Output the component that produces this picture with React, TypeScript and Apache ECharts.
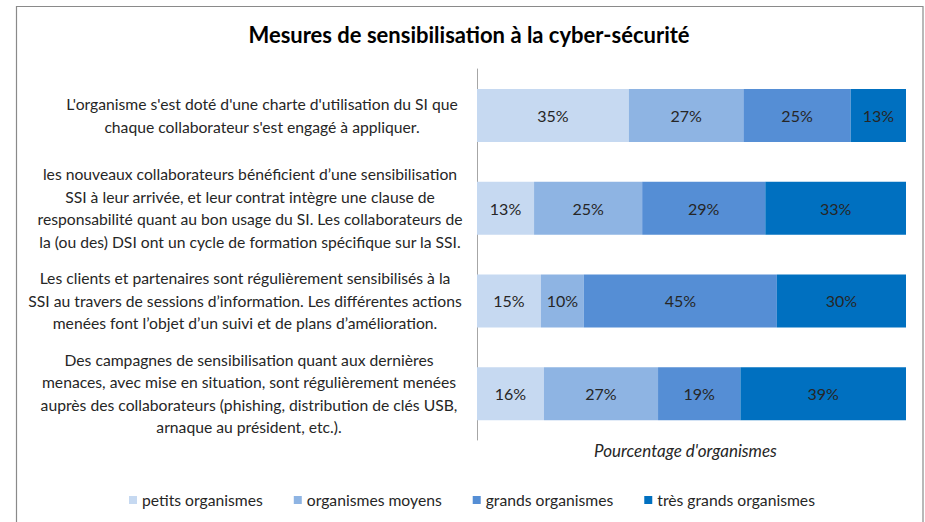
import React, { useEffect, useRef } from "react";
import * as echarts from "echarts";

const title = "Mesures de sensibilisation à la cyber-sécurité";
const axisName = "Pourcentage d'organismes";

const categories = [
  "L'organisme s'est doté d'une charte d'utilisation du SI que\nchaque collaborateur s'est engagé à appliquer.",
  "les nouveaux collaborateurs bénéficient d’une sensibilisation\nSSI à leur arrivée, et leur contrat intègre une clause de\nresponsabilité quant au bon usage du SI. Les collaborateurs de\nla (ou des) DSI ont un cycle de formation spécifique sur la SSI.",
  "Les clients et partenaires sont régulièrement sensibilisés à la\nSSI au travers de sessions d’information. Les différentes actions\nmenées font l’objet d’un suivi et de plans d’amélioration.",
  "Des campagnes de sensibilisation quant aux dernières\nmenaces, avec mise en situation, sont régulièrement menées\nauprès des collaborateurs (phishing, distribution de clés USB,\narnaque au président, etc.).",
];

const seriesNames = [
  "petits organismes",
  "organismes moyens",
  "grands organismes",
  "très grands organismes",
];

const petits = [35.4, 13.3, 14.9, 15.6];
const moyens = [26.7, 25.2, 10.0, 26.6];
const grands = [25.0, 28.7, 45.0, 19.2];
const tresGrands = [12.9, 32.8, 30.1, 38.6];

const colors = ["#C6D9F1", "#8EB4E3", "#558ED5", "#0070C0"];
const labelShift = [34, 10, 0, 8];

const FONT = "Lato, 'Noto Sans', sans-serif";

export default function App() {
  const ref = useRef<HTMLDivElement>(null);
  useEffect(() => {
    document.body.style.margin = "0";
    if (!ref.current) return;
    const chart = echarts.init(ref.current, null, { renderer: "svg" });
    const values = [petits, moyens, grands, tresGrands];
    chart.setOption({
      animation: false,
      backgroundColor: "#ffffff",
      textStyle: { fontFamily: FONT },
      title: {
        text: title,
        left: 469,
        textAlign: "center",
        top: 23,
        padding: 0,
        textStyle: {
          fontFamily: FONT,
          fontWeight: "bold",
          fontSize: 22,
          color: "#000000",
        },
      },
      graphic: [
        {
          type: "rect",
          silent: true,
          shape: { x: 16.5, y: 6.5, width: 906.5, height: 540 },
          style: { fill: "none", stroke: "#8a8a8a", lineWidth: 1.2 },
        },
      ],
      legend: {
        data: seriesNames,
        left: 129,
        top: 492,
        padding: 0,
        icon: "rect",
        itemWidth: 8,
        itemHeight: 8,
        itemGap: 31,
        textStyle: { fontFamily: FONT, fontSize: 15.7, color: "#262626" },
      },
      grid: {
        left: 477,
        right: 19,
        top: 69,
        bottom: 82,
        containLabel: false,
        outerBoundsMode: "none",
      },
      xAxis: {
        type: "value",
        min: 0,
        max: 100,
        axisLine: { show: false },
        axisTick: { show: false },
        axisLabel: { show: false },
        splitLine: { show: false },
        name: axisName,
        nameLocation: "middle",
        nameGap: 2,
        nameTextStyle: {
          fontFamily: FONT,
          fontStyle: "italic",
          fontSize: 17,
          color: "#262626",
          padding: [0, 12, 0, 0],
        },
      },
      yAxis: {
        type: "category",
        inverse: true,
        data: categories.map((c, i) => ({
          value: c,
          textStyle: {
            align: "center",
            verticalAlign: "middle",
            padding: [0, 0, 0, labelShift[i]],
          },
        })),
        axisLine: { show: true, lineStyle: { color: "#A6A6A6", width: 1 } },
        axisTick: { show: false },
        axisLabel: {
          align: "center",
          margin: 232,
          fontFamily: FONT,
          fontSize: 15.7,
          lineHeight: 22.5,
          color: "#262626",
          hideOverlap: false,
        },
      },
      series: seriesNames.map((name, i) => ({
        name,
        type: "bar",
        stack: "total",
        barWidth: 53,
        data: values[i],
        itemStyle: { color: colors[i] },
        label: {
          show: true,
          position: "inside",
          fontFamily: FONT,
          fontSize: 16,
          color: "#262626",
          formatter: (p: any) => Math.round(p.value) + "%",
        },
      })),
    });
    return () => chart.dispose();
  }, []);
  return <div ref={ref} style={{ width: 925, height: 522 }} />;
}
